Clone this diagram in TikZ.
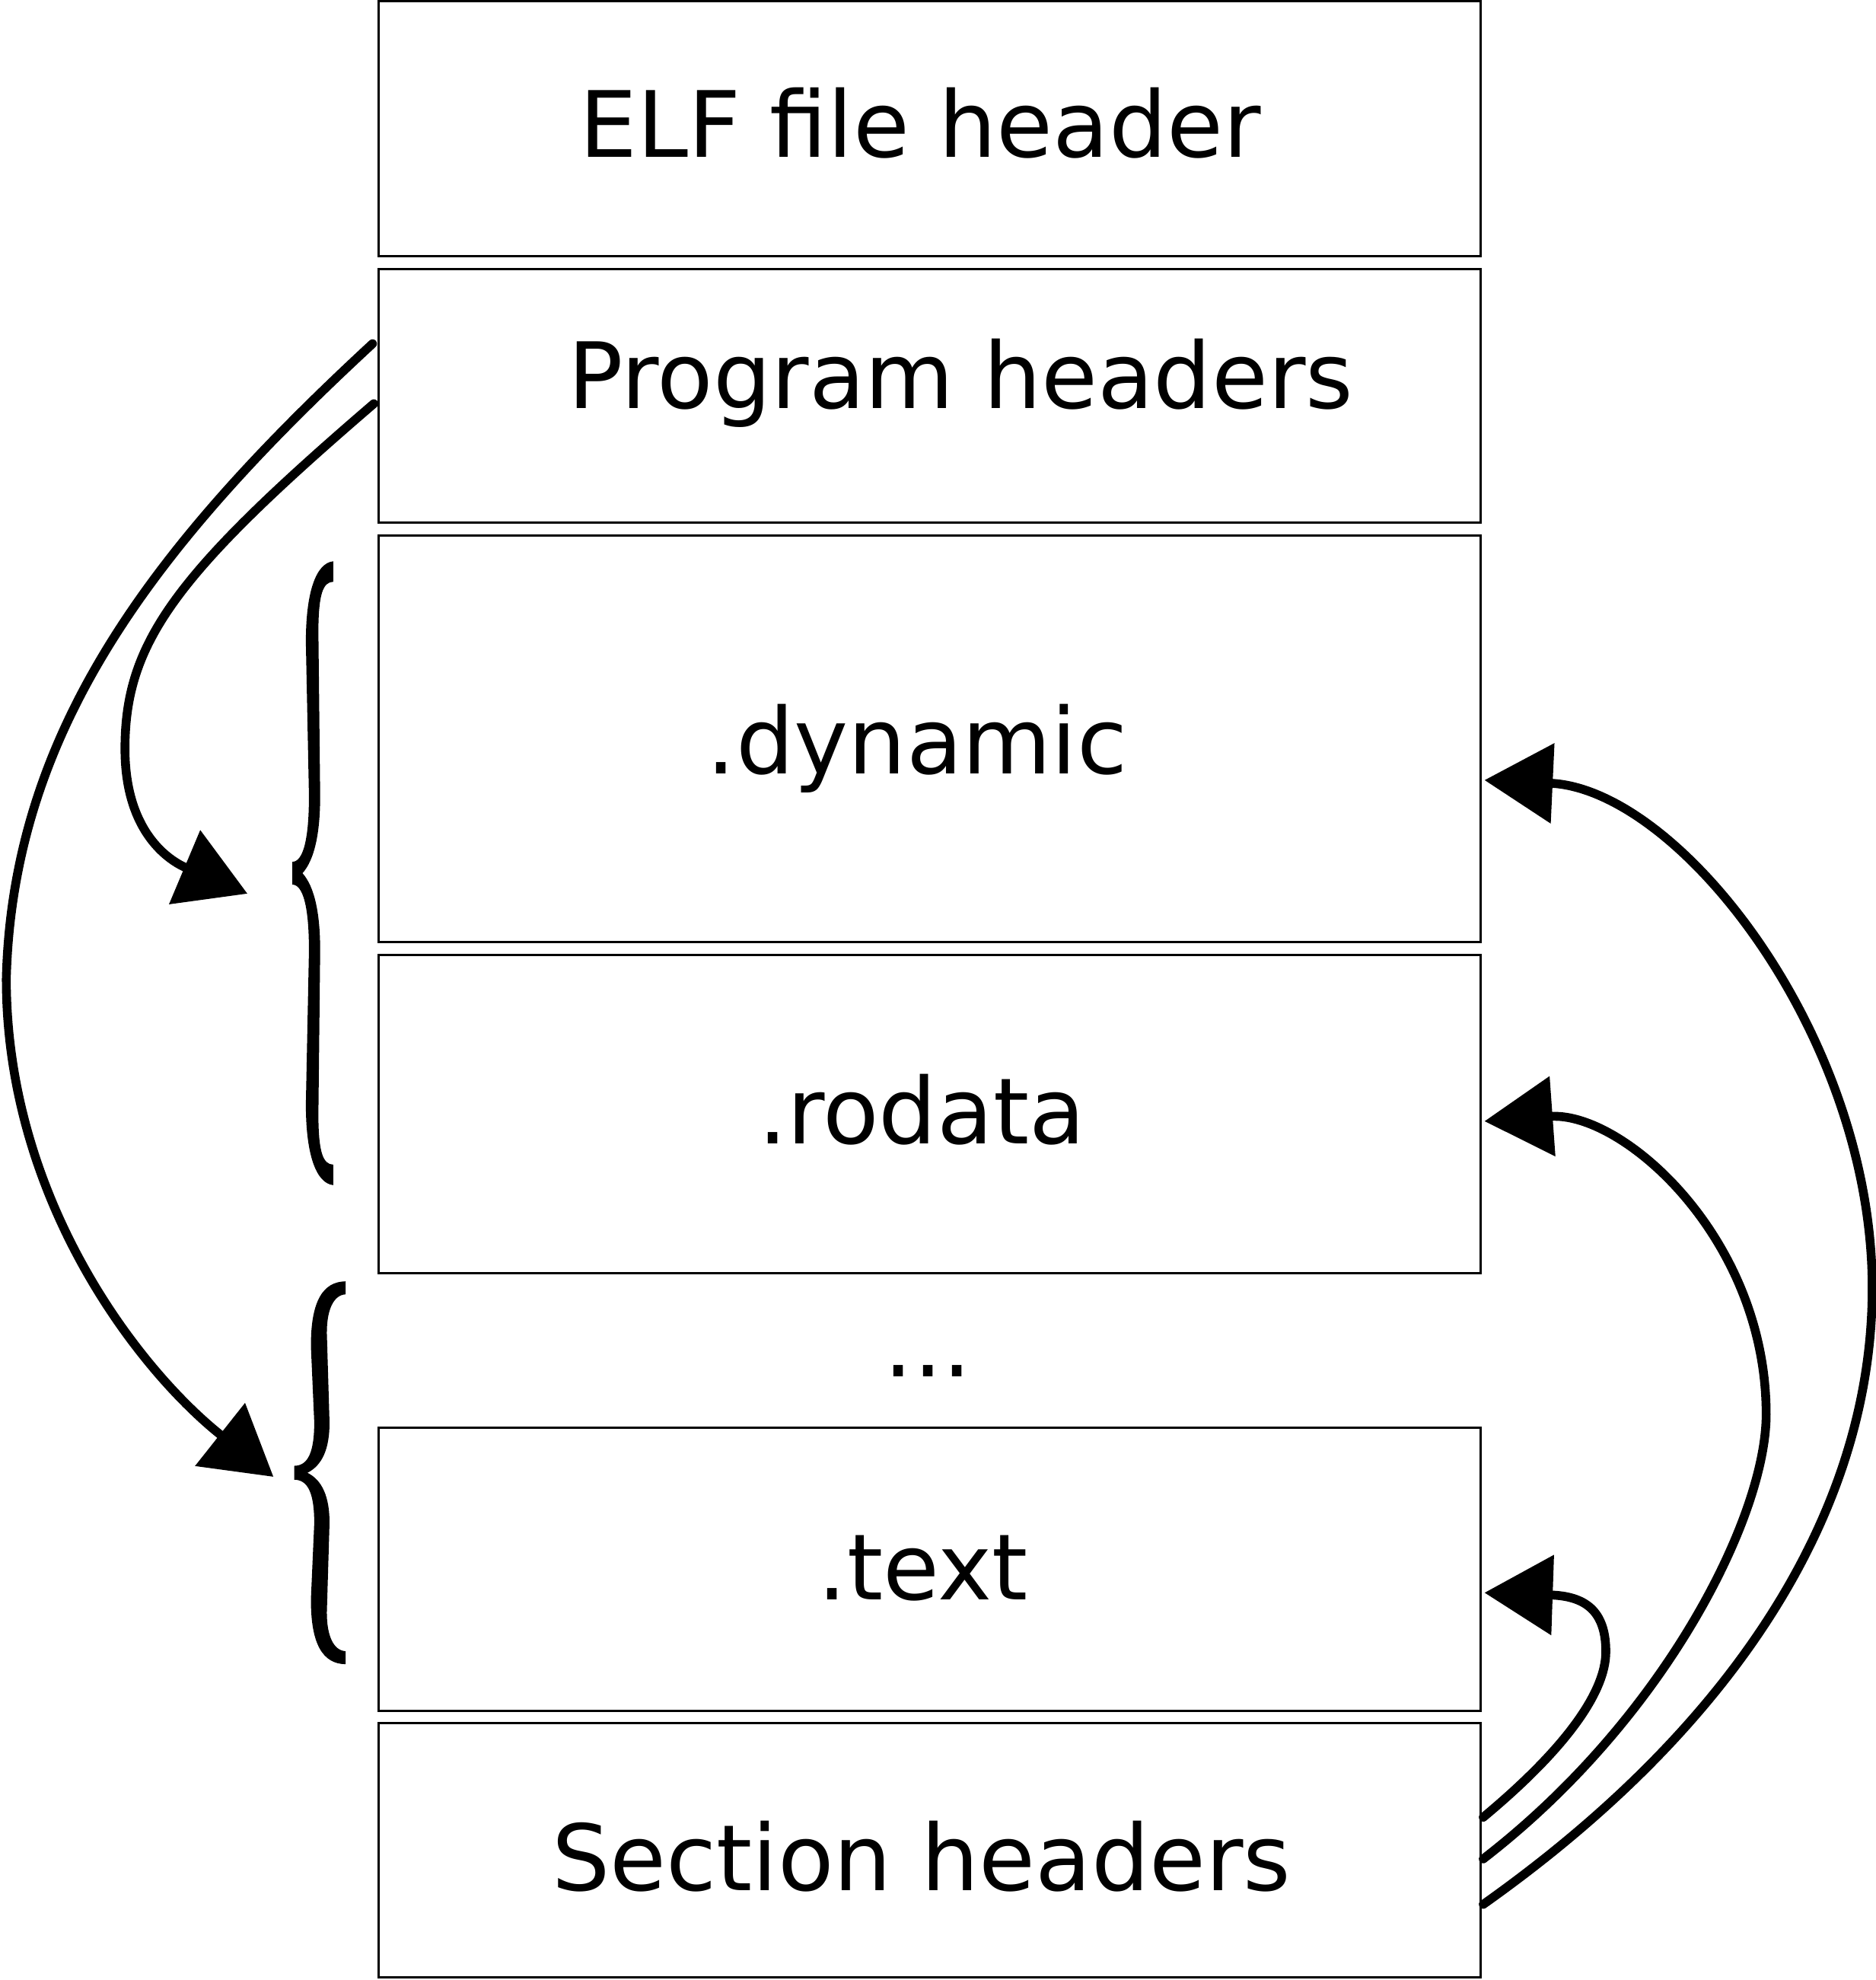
\documentclass[tikz,border=0pt]{standalone}
\usepackage{fontspec}
\setmainfont{DejaVu Sans}
\usetikzlibrary{arrows.meta}
\begin{document}
\begin{tikzpicture}[x=1pt,y=-1pt,
  box/.style={draw=black, line width=1.8pt, rectangle, minimum width=873pt, inner sep=0pt},
  lbl/.style={anchor=base, inner sep=0pt, font=\fontsize{72.5pt}{80pt}\selectfont},
  conn/.style={line width=7pt, line cap=round, -{Triangle[length=54pt,width=62pt]}},
  bracefill/.style={fill=black, draw=none}]
\useasboundingbox (0,0) rectangle (1486,1568);

% boxes
\node[box, minimum height=202pt]   (elf) at (736.5,102) {};
\node[box, minimum height=201pt]   (ph)  at (736.5,313.6) {};
\node[box, minimum height=321.8pt] (dyn) at (736.5,585.1) {};
\node[box, minimum height=251.7pt] (rod) at (736.5,882.15) {};
\node[box, minimum height=223.9pt] (txt) at (736.5,1242.65) {};
\node[box, minimum height=201.4pt] (sec) at (736.5,1465.3) {};

% labels
\node[lbl] (telf)  at (729,124.5) {ELF file header};
\node[lbl] (tph)   at (761,323.5) {Program headers};
\node[lbl] (tdyn)  at (726.5,613) {.dynamic};
\node[lbl] (trod)  at (730,906) {.rodata};
\node[lbl] (tdots) at (735,1090) {...};
\node[lbl] (ttxt)  at (731,1267) {.text};
\node[lbl] (tsec)  at (730,1497) {Section headers};

% braces
\fill[bracefill] (263.9,444.5) .. controls (250,446) and (242,470) .. (242.3,510)
  -- (244.7,628.7) .. controls (244.9,665) and (240,682.5) .. (231.5,682.5)
  -- (231.5,700.5) .. controls (240,700.5) and (244.9,718) .. (244.7,754.3)
  -- (242.3,873) .. controls (242,913) and (250,937) .. (263.9,938.5)
  -- (263.9,922.3) .. controls (256,922) and (252.3,913) .. (252.2,883)
  -- (253.6,754.3) .. controls (253.8,723) and (249,702) .. (239.6,691.5)
  .. controls (249,681) and (253.8,660) .. (253.6,628.7)
  -- (252.2,500) .. controls (252.3,470) and (256,461) .. (263.9,460.7) -- cycle;

\fill[bracefill] (273.7,1014.7) .. controls (256,1015) and (246,1030) .. (246.3,1066.7)
  -- (248.9,1125.9) .. controls (249,1150) and (244,1160.8) .. (233,1160.8)
  -- (233,1171.8) .. controls (244,1171.8) and (249,1182.6) .. (248.9,1206.7)
  -- (246.3,1265.9) .. controls (246,1302.6) and (256,1317.6) .. (273.7,1317.9)
  -- (273.7,1307.6) .. controls (264,1307) and (258.8,1295) .. (258.9,1276.7)
  -- (261,1206.7) .. controls (261.2,1185) and (255,1172) .. (243.5,1166.3)
  .. controls (255,1160.6) and (261.2,1147.6) .. (261,1125.9)
  -- (258.9,1055.9) .. controls (258.8,1037.6) and (264,1025.6) .. (273.7,1025) -- cycle;

% free ends of the left connectors
\coordinate (tipA) at (196,707.7);
\coordinate (tipB) at (216.6,1169.5);

% program headers -> segments
\draw[conn] ([xshift=-4pt,yshift=-60pt]ph.north west)
  .. controls (120,434) and (10,580) .. (5,775)
  .. controls (5,950) and (110,1085) .. (tipB);
\draw[conn] ([xshift=-3pt,yshift=-107.5pt]ph.north west)
  .. controls (138.5,455) and (99,509) .. (99,593)
  .. controls (99,660) and (135,682) .. (tipA);

% section headers -> sections
\draw[conn] ([xshift=1pt,yshift=-75.4pt]sec.north east)
  .. controls (1240,1385) and (1272,1340) .. (1272,1308)
  .. controls (1272,1275) and (1255,1264) .. ([xshift=2pt,yshift=-131.5pt]txt.north east);
\draw[conn] ([xshift=1pt,yshift=-108.4pt]sec.north east)
  .. controls (1320,1360) and (1399,1200) .. (1399,1120)
  .. controls (1399,980) and (1285,880) .. ([xshift=2pt,yshift=-132.5pt]rod.north east);
\draw[conn] ([xshift=1pt,yshift=-144.4pt]sec.north east)
  .. controls (1370,1370) and (1483,1200) .. (1483,1020)
  .. controls (1483,820) and (1330,625) .. ([xshift=2pt,yshift=-194.5pt]dyn.north east);
\end{tikzpicture}
\end{document}
